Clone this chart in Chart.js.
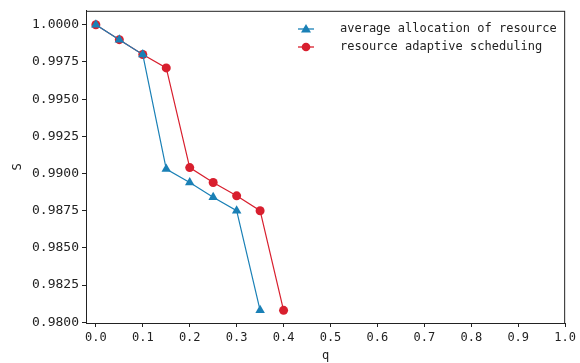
<!DOCTYPE html>
<html>
<head>
<meta charset="utf-8">
<script src="https://cdn.jsdelivr.net/npm/chart.js@4"></script>
<style>
  html, body { margin: 0; padding: 0; background: #fff; }
  #wrap { width: 580px; height: 363px; }
</style>
</head>
<body>
<div id="wrap"><canvas id="sChart"></canvas></div>
<script>
const qValues = [0, 0.05, 0.1, 0.15, 0.2, 0.25, 0.3, 0.35, 0.4];
const averageAlloc = [1.0, 0.9990, 0.9980, 0.9903, 0.9894, 0.9884, 0.9875, 0.9808];
const adaptiveSched = [1.0, 0.9990, 0.9980, 0.9971, 0.9904, 0.9894, 0.9885, 0.9875, 0.9808];
const xTicks = [0, 0.1, 0.2, 0.3, 0.4, 0.5, 0.6, 0.7, 0.8, 0.9, 1.0];
const yTicks = [0.98, 0.9825, 0.985, 0.9875, 0.99, 0.9925, 0.995, 0.9975, 1.0];

const blue = '#1a80b6';
const red = '#d81f2e';
const mono = 'DejaVu Sans Mono';

const toPoints = (vals) => vals.map((v, i) => ({ x: qValues[i], y: v }));

// legend with line + marker, drawn inside the plot (top right)
const lineLegend = {
  id: 'lineLegend',
  afterDraw(chart) {
    const c = chart.ctx;
    const area = chart.chartArea;
    // frame around the plot
    c.save();
    c.strokeStyle = '#222';
    c.lineWidth = 1;
    c.strokeRect(area.left + 0.5, area.top + 0.5, area.right - area.left - 1, area.bottom - area.top);
    c.restore();

    const x0 = 298, rows = [29, 47];
    chart.data.datasets.forEach((ds, i) => {
      const y = rows[i];
      c.save();
      c.strokeStyle = ds.borderColor;
      c.lineWidth = 1.3;
      c.beginPath();
      c.moveTo(x0, y);
      c.lineTo(x0 + 16, y);
      c.stroke();
      c.fillStyle = ds.backgroundColor;
      c.beginPath();
      if (ds.pointStyle === 'triangle') {
        c.moveTo(x0 + 8, y - 5);
        c.lineTo(x0 + 13, y + 3.5);
        c.lineTo(x0 + 3, y + 3.5);
        c.closePath();
      } else {
        c.arc(x0 + 8, y, 4.3, 0, Math.PI * 2);
      }
      c.fill();
      c.fillStyle = '#222';
      c.font = '12px "' + mono + '"';
      c.textBaseline = 'middle';
      c.fillText(ds.label, 340, y);
      c.restore();
    });
  }
};

new Chart(document.getElementById('sChart'), {
  type: 'line',
  data: {
    datasets: [
      {
        label: 'average allocation of resource',
        data: toPoints(averageAlloc),
        borderColor: blue,
        backgroundColor: blue,
        borderWidth: 1.2,
        pointStyle: 'triangle',
        pointRadius: 5.5,
        pointBorderWidth: 0,
        tension: 0
      },
      {
        label: 'resource adaptive scheduling',
        data: toPoints(adaptiveSched),
        borderColor: red,
        backgroundColor: red,
        borderWidth: 1.2,
        pointStyle: 'circle',
        pointRadius: 4.5,
        pointBorderWidth: 0,
        tension: 0
      }
    ]
  },
  options: {
    responsive: true,
    maintainAspectRatio: false,
    animation: false,
    layout: { padding: { left: 0, right: 9, top: 10, bottom: 0 } },
    plugins: {
      legend: { display: false },
      tooltip: { enabled: false }
    },
    scales: {
      x: {
        type: 'linear',
        min: -0.021,
        max: 1.0,
        afterBuildTicks: (axis) => { axis.ticks = xTicks.map(v => ({ value: v })); },
        afterFit: (axis) => { axis.height = 40; },
        ticks: {
          color: '#222',
          font: { family: mono, size: 12 },
          padding: 4,
          maxRotation: 0,
          callback: (v) => Number(v).toFixed(1)
        },
        grid: { drawOnChartArea: false, drawTicks: true, tickLength: 4, color: '#222' },
        border: { display: true, color: '#222' },
        title: {
          display: true,
          text: 'q',
          color: '#222',
          font: { family: mono, size: 12 },
          padding: { top: 0, bottom: 0 }
        }
      },
      y: {
        min: 0.97995,
        max: 1.00094,
        afterBuildTicks: (axis) => { axis.ticks = yTicks.map(v => ({ value: v })); },
        afterFit: (axis) => { axis.width = 86; },
        ticks: {
          color: '#222',
          font: { family: mono, size: 13 },
          padding: 3,
          callback: (v) => Number(v).toFixed(4)
        },
        grid: { drawOnChartArea: false, drawTicks: true, tickLength: 4, color: '#222' },
        border: { display: true, color: '#222' },
        title: {
          display: true,
          text: 'S',
          color: '#222',
          font: { family: mono, size: 12 },
          padding: { top: 11, bottom: 0 }
        }
      }
    }
  },
  plugins: [lineLegend]
});
</script>
</body>
</html>
